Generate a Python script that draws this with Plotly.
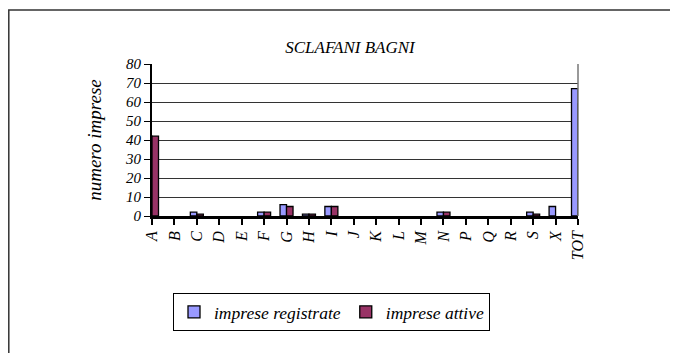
import plotly.graph_objects as go

categories = ["A", "B", "C", "D", "E", "F", "G", "H", "I", "J",
              "K", "L", "M", "N", "P", "Q", "R", "S", "X", "TOT"]
registrate = [42, 0, 2, 0, 0, 2, 6, 1, 5, 0, 0, 0, 0, 2, 0, 0, 0, 2, 5, 67]
attive = [42, 0, 1, 0, 0, 2, 5, 1, 5, 0, 0, 0, 0, 2, 0, 0, 0, 1, 0, 59]

serif = "Liberation Serif"

fig = go.Figure()
for name, vals, color in [("imprese registrate", registrate, "#9999FF"),
                          ("imprese attive", attive, "#993366")]:
    fig.add_trace(go.Bar(
        x=categories, y=vals, name=name,
        marker=dict(color=color,
                    line=dict(color="black", width=[1.3 if v else 0 for v in vals])),
    ))

# the page body adds an 8px margin, so the figure is sized to the visible area
W, H = 670, 345
L, T, PW, PH = 144, 56, 426, 152

fig.update_layout(
    width=W, height=H,
    margin=dict(l=L, r=W - L - PW, t=T, b=H - T - PH),
    paper_bgcolor="white", plot_bgcolor="white",
    barmode="group", bargap=0.42, bargroupgap=0,
    font=dict(family=serif, color="black", style="italic"),
    title=dict(text="SCLAFANI BAGNI", x=(342 - L) / PW, xref="paper", xanchor="center",
               y=1 - 39 / H, yanchor="middle",
               font=dict(size=17, family=serif, style="italic")),
    showlegend=True,
    legend=dict(orientation="h", x=(165 - L) / PW, y=(T + PH - 285) / PH,
                xanchor="left", yanchor="top",
                bordercolor="black", borderwidth=1, bgcolor="white",
                font=dict(size=17.5, family=serif, style="italic"),
                traceorder="normal"),
)

fig.update_xaxes(
    type="category", range=[0, 19],
    showgrid=False, showline=True, linecolor="black", linewidth=2.5,
    ticks="outside", ticklen=6, tickcolor="black", tickwidth=1.5,
    tickangle=-90, tickfont=dict(size=16, family=serif, style="italic"),
)
fig.update_yaxes(
    range=[0, 80], dtick=10,
    showgrid=True, gridcolor="#333333", gridwidth=1.2,
    showline=True, linecolor="black", linewidth=2,
    ticks="outside", ticklen=6, tickcolor="black", tickwidth=1.2,
    tickfont=dict(size=15, family=serif, style="italic"),
    title=dict(text="numero imprese", standoff=18,
               font=dict(size=19, family=serif, style="italic")),
    zeroline=False,
)

# right border of the plot area
fig.add_shape(type="line", xref="paper", yref="paper", x0=1, x1=1, y0=0, y1=1,
              line=dict(color="#777777", width=1.5))
# outer frame of the chart (runs off the right and bottom edges)
fig.add_shape(type="rect", xref="paper", yref="paper",
              x0=(0.8 - L) / PW, x1=1.4, y0=-1.2, y1=(T + PH - 2) / PH,
              line=dict(color="#333333", width=1.5), layer="below")

fig.write_html("out.html")
